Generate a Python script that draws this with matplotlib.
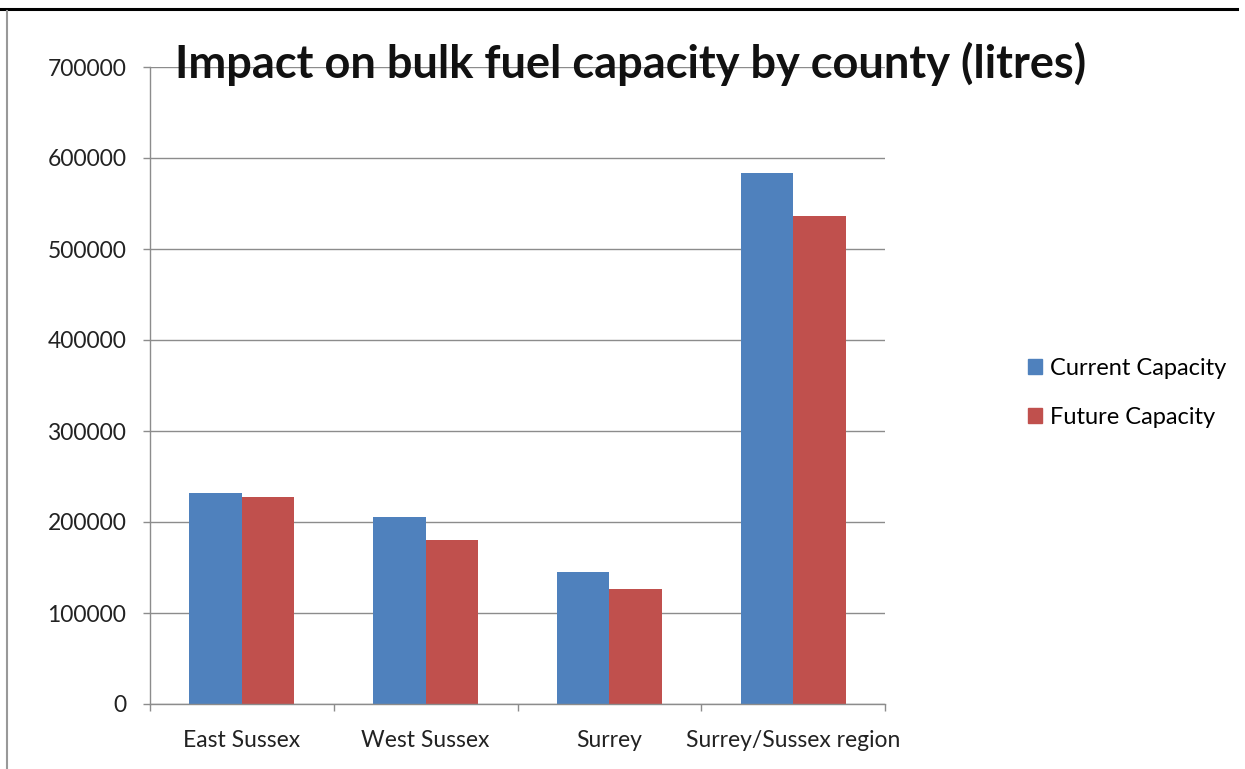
import numpy as np
import matplotlib.pyplot as plt
from matplotlib.lines import Line2D

plt.rcParams['font.family'] = ['Lato', 'DejaVu Sans']

counties = ['East Sussex', 'West Sussex', 'Surrey', 'Surrey/Sussex region']
current = [231500, 205500, 145400, 583200]
future = [227100, 180200, 126700, 536600]
series_names = ['Current Capacity', 'Future Capacity']
yticks = [0, 100000, 200000, 300000, 400000, 500000, 600000, 700000]

blue = '#4F81BD'
red = '#C0504D'
grid = '#8C8C8C'

fig = plt.figure(figsize=(12.45, 7.69), dpi=100)
ax = fig.add_axes([150/1245, 65/769, 735/1245, 637/769])

x = np.arange(len(counties))
w = 0.286
ax.bar(x - w/2, current, w, color=blue, label=series_names[0])
ax.bar(x + w/2, future, w, color=red, label=series_names[1])

ax.set_xlim(-0.5, len(counties) - 0.5)
ax.set_ylim(0, 700000)
ax.set_yticks(yticks)
ax.set_yticklabels([str(v) for v in yticks], fontsize=16.5, color='#222222')
ax.set_xticks(x)
ax.set_xticklabels(counties, fontsize=16.5, color='#222222')
ax.tick_params(axis='x', length=0, pad=19)
ax.tick_params(axis='y', length=5, width=1, color=grid, pad=12)

# category separators below the axis
ax.set_xticks(np.arange(-0.5, len(counties)), minor=True)
ax.tick_params(axis='x', which='minor', length=5, width=1, color=grid)

ax.yaxis.grid(True, color=grid, linewidth=1)
ax.set_axisbelow(True)
for s in ['top', 'right']:
    ax.spines[s].set_visible(False)
for s in ['left', 'bottom']:
    ax.spines[s].set_color(grid)
    ax.spines[s].set_linewidth(1)

fig.text(631/1245, 1 - 64/769, 'Impact on bulk fuel capacity by county (litres)',
         fontsize=32.5, fontweight='bold', ha='center', va='center', color='#111111')

handles = [plt.Rectangle((0, 0), 1, 1, color=blue), plt.Rectangle((0, 0), 1, 1, color=red)]
fig.legend(handles, series_names, loc='center left', bbox_to_anchor=(1016/1245, 1 - 393/769),
           frameon=False, fontsize=17, handlelength=0.6, handleheight=0.6,
           handletextpad=0.35, labelspacing=1.2, borderpad=0)

# page frame lines
fig.add_artist(Line2D([0, 1237/1245], [1 - 9/769, 1 - 9/769], color='black', linewidth=2.2,
                      transform=fig.transFigure))
fig.add_artist(Line2D([7/1245, 7/1245], [0, 1 - 11/769], color='#999999', linewidth=1.5,
                      transform=fig.transFigure))

fig.savefig('out.png', dpi=100)
